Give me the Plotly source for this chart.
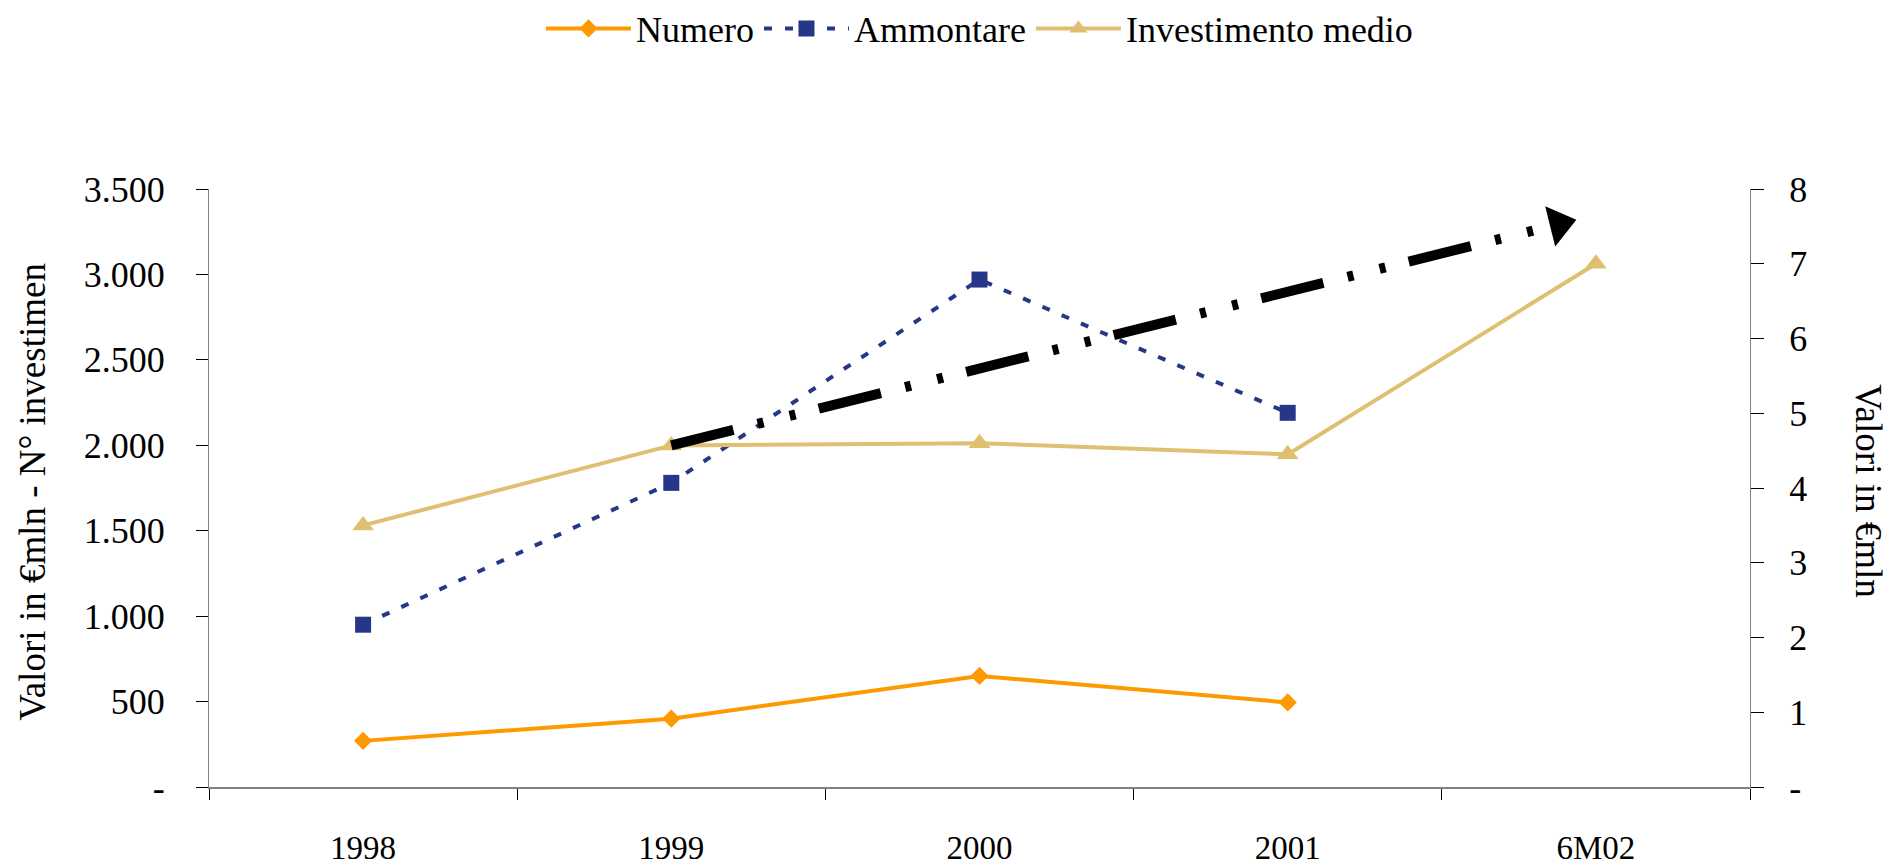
import plotly.graph_objects as go

CATEGORIES = ["1998", "1999", "2000", "2001", "6M02"]
NUMERO = [270, 400, 650, 495, None]
AMMONTARE = [950, 1780, 2970, 2190, None]
INVESTIMENTO_MEDIO = [3.5, 4.57, 4.6, 4.45, 7.0]

# trend arrow (x in category index, y on the right axis)
ARROW_X = [1, 3.88]
ARROW_Y = [4.57, 7.53]

LEFT_TICKS = [0, 500, 1000, 1500, 2000, 2500, 3000, 3500]
LEFT_LABELS = ["-", "500", "1.000", "1.500", "2.000", "2.500", "3.000", "3.500"]
RIGHT_TICKS = [0, 1, 2, 3, 4, 5, 6, 7, 8]
RIGHT_LABELS = ["-", "1", "2", "3", "4", "5", "6", "7", "8"]

COLORS = {
    "orange": "#FF9900",
    "navy": "#253786",
    "tan": "#DEC070",
    "axis": "#808080",
}
FONT = "Liberation Serif, Times New Roman, serif"

x_pos = list(range(len(CATEGORIES)))

fig = go.Figure()
fig.add_trace(
    go.Scatter(
        x=x_pos,
        y=NUMERO,
        name="Numero",
        mode="lines+markers",
        line={"color": COLORS["orange"], "width": 4},
        marker={"symbol": "diamond", "size": 14, "color": COLORS["orange"]},
    )
)
fig.add_trace(
    go.Scatter(
        x=x_pos,
        y=AMMONTARE,
        name="Ammontare",
        mode="lines+markers",
        line={"color": COLORS["navy"], "width": 4, "dash": "8px,13px"},
        marker={"symbol": "square", "size": 16, "color": COLORS["navy"]},
    )
)
fig.add_trace(
    go.Scatter(
        x=x_pos,
        y=INVESTIMENTO_MEDIO,
        name="Investimento medio",
        yaxis="y2",
        mode="lines+markers",
        line={"color": COLORS["tan"], "width": 4},
        marker={"symbol": "triangle-up", "size": 19, "color": COLORS["tan"]},
    )
)
fig.add_trace(
    go.Scatter(
        x=ARROW_X,
        y=ARROW_Y,
        yaxis="y2",
        mode="lines+markers",
        showlegend=False,
        hoverinfo="skip",
        line={"color": "black", "width": 10, "dash": "64px,25px,6px,27px,6px,24px"},
        marker={
            "symbol": "triangle-right",
            "size": [0, 36],
            "angle": -14,
            "color": "black",
            "opacity": 1,
            "line": {"width": 0, "color": "black"},
        },
    )
)

fig.update_layout(
    width=1892,
    height=865,
    paper_bgcolor="white",
    plot_bgcolor="white",
    font={"family": FONT, "color": "black", "size": 36},
    margin={"l": 209, "r": 142, "t": 189, "b": 78},
    showlegend=True,
    legend={
        "orientation": "h",
        "x": 0.5,
        "xanchor": "center",
        "yref": "container",
        "y": 0.967,
        "yanchor": "middle",
        "font": {"size": 36},
        "itemwidth": 85,
    },
    xaxis={
        "range": [-0.5, 4.5],
        "tickvals": x_pos,
        "ticktext": CATEGORIES,
        "ticks": "",
        "tickfont": {"size": 33},
        "ticklabelstandoff": 30,
        "automargin": False,
        "minor": {
            "tick0": -0.5,
            "dtick": 1,
            "ticks": "outside",
            "ticklen": 11,
            "tickcolor": "black",
            "tickwidth": 1,
        },
        "showline": True,
        "linecolor": COLORS["axis"],
        "linewidth": 2,
        "showgrid": False,
        "zeroline": False,
    },
    yaxis={
        "range": [0, 3500],
        "tickvals": LEFT_TICKS,
        "ticktext": LEFT_LABELS,
        "ticks": "outside",
        "ticklen": 12,
        "tickcolor": "black",
        "tickfont": {"size": 36},
        "ticklabelstandoff": 24,
        "automargin": False,
        "showline": True,
        "linecolor": COLORS["axis"],
        "linewidth": 1,
        "showgrid": False,
        "zeroline": False,
    },
    yaxis2={
        "range": [0, 8],
        "overlaying": "y",
        "side": "right",
        "tickvals": RIGHT_TICKS,
        "ticktext": RIGHT_LABELS,
        "ticks": "outside",
        "ticklen": 13,
        "tickcolor": "black",
        "tickfont": {"size": 36},
        "ticklabelstandoff": 18,
        "automargin": False,
        "showline": True,
        "linecolor": COLORS["axis"],
        "linewidth": 1,
        "showgrid": False,
        "zeroline": False,
    },
    annotations=[
        {
            "text": "Valori in €mln - N° investimen",
            "textangle": -90,
            "xref": "paper",
            "yref": "paper",
            "x": -0.115,
            "y": (787 - 723) / (787 - 189),
            "xanchor": "center",
            "yanchor": "bottom",
            "showarrow": False,
            "font": {"size": 37},
        },
        {
            "text": "Valori in €mln",
            "textangle": 90,
            "xref": "paper",
            "yref": "paper",
            "x": (1869 - 209) / (1750 - 209),
            "y": (787 - 382) / (787 - 189),
            "xanchor": "center",
            "yanchor": "top",
            "showarrow": False,
            "font": {"size": 37},
        },
    ],
)

fig.write_html(
    "out.html",
    config={"displayModeBar": False},
    post_script="document.body.style.margin='0';document.body.style.overflow='hidden';",
)
